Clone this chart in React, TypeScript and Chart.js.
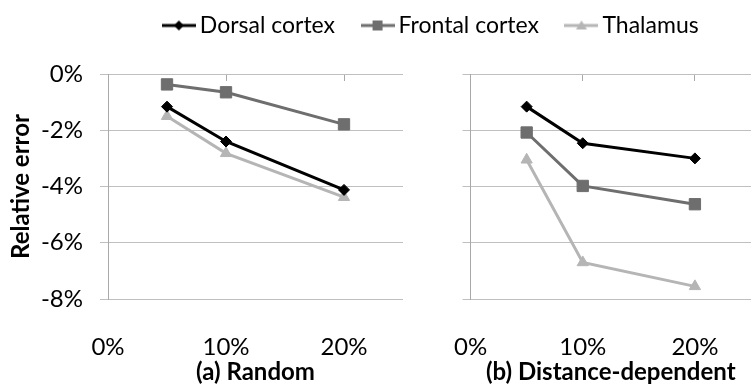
import React, { useEffect, useRef } from 'react';
import { Chart, registerables } from 'chart.js';

Chart.register(...registerables);

// ---------- data ----------
const seriesNames = ['Dorsal cortex', 'Frontal cortex', 'Thalamus'];
const xValues = [5, 10, 20];
const randomDorsal = [-1.16, -2.4, -4.12];
const randomFrontal = [-0.37, -0.65, -1.79];
const randomThalamus = [-1.5, -2.82, -4.38];
const distDorsal = [-1.16, -2.46, -3.0];
const distFrontal = [-2.08, -3.98, -4.63];
const distThalamus = [-3.05, -6.7, -7.55];
const xTickValues = [0, 10, 20];
const yTickValues = [0, -2, -4, -6, -8];
const panelTitles = ['(a) Random', '(b) Distance-dependent'];
const yAxisTitle = 'Relative error';

// ---------- styles ----------
const FONT = 'Lato';
const colors = ['#000000', '#6e6e6e', '#b5b5b5'];
const pointStyles = ['rectRot', 'rect', 'triangle'];
const pointRadii = [5.5, 8, 6.5];
const GRID = '#bfbfbf';
const AXIS = '#a9a9a9';

Chart.defaults.font.family = FONT;
Chart.defaults.color = '#000';

function makeIcon(i: number): HTMLCanvasElement {
  const c = document.createElement('canvas');
  c.width = 34;
  c.height = 14;
  const ctx = c.getContext('2d')!;
  ctx.strokeStyle = colors[i];
  ctx.fillStyle = colors[i];
  ctx.lineWidth = 3;
  ctx.beginPath();
  ctx.moveTo(0, 7);
  ctx.lineTo(34, 7);
  ctx.stroke();
  ctx.beginPath();
  if (i === 0) {
    ctx.moveTo(17, 2);
    ctx.lineTo(22, 7);
    ctx.lineTo(17, 12);
    ctx.lineTo(12, 7);
  } else if (i === 1) {
    ctx.rect(12, 2, 10, 10);
  } else {
    ctx.moveTo(17, 2);
    ctx.lineTo(22.5, 11);
    ctx.lineTo(11.5, 11);
  }
  ctx.closePath();
  ctx.fill();
  return c;
}

function keepTicks(scale: any) {
  scale.ticks = scale.ticks.filter((t: any) => xTickValues.includes(t.value));
}

function panelConfig(series: number[][], title: string, isLeft: boolean, yWidth: number, padRight: number): any {
  return {
    type: 'line',
    data: {
      datasets: series.map((vals, i) => ({
        label: seriesNames[i],
        data: xValues.map((x, k) => ({ x, y: vals[k] })),
        borderColor: colors[i],
        backgroundColor: colors[i],
        borderWidth: 3,
        pointStyle: pointStyles[i],
        pointRadius: pointRadii[i],
        pointBorderWidth: 1,
        pointBackgroundColor: colors[i],
        pointBorderColor: colors[i],
        tension: 0,
        clip: false,
      })),
    },
    options: {
      responsive: false,
      animation: false,
      layout: { padding: { top: 74, right: padRight, bottom: 0, left: 0 } },
      plugins: { legend: { display: false }, tooltip: { enabled: false } },
      scales: {
        x: {
          type: 'linear',
          position: 'bottom',
          min: 0,
          max: 25,
          afterBuildTicks: keepTicks,
          afterFit: (s: any) => { s.height = 91; },
          ticks: {
            stepSize: 10,
            padding: 34,
            font: { family: FONT, size: 24 },
            color: '#000',
            callback: (v: any) => v + '%',
          },
          grid: { display: false, drawTicks: false },
          border: { display: false },
          title: {
            display: true,
            text: title,
            font: { family: FONT, size: 24, weight: 'bold' },
            color: '#000',
            padding: { top: 0, bottom: 3 },
          },
        },
        x2: {
          type: 'linear',
          position: 'top',
          min: 0,
          max: 25,
          afterBuildTicks: keepTicks,
          afterFit: (s: any) => { s.height = 0; },
          ticks: { display: false, stepSize: 10 },
          grid: { display: true, drawOnChartArea: false, drawTicks: true, tickLength: -7, color: AXIS },
          border: { display: false },
        },
        y: {
          type: 'linear',
          position: 'left',
          min: -8,
          max: 0,
          afterBuildTicks: (s: any) => {
            s.ticks = s.ticks.filter((t: any) => yTickValues.includes(t.value));
          },
          afterFit: (s: any) => { s.width = yWidth; },
          ticks: {
            display: isLeft,
            stepSize: 2,
            padding: 17,
            font: { family: FONT, size: 24 },
            color: '#000',
            callback: (v: any) => v + '%',
          },
          grid: { color: GRID, lineWidth: 1, drawTicks: true, tickLength: 8 },
          border: { display: true, color: AXIS, width: 1 },
          title: {
            display: isLeft,
            text: yAxisTitle,
            font: { family: FONT, size: 24, weight: 'bold' },
            color: '#000',
            padding: { top: 7, bottom: 0 },
          },
        },
      },
    },
  };
}

export default function App() {
  const legendRef = useRef<HTMLCanvasElement>(null);
  const leftRef = useRef<HTMLCanvasElement>(null);
  const rightRef = useRef<HTMLCanvasElement>(null);

  useEffect(() => {
    document.body.style.margin = '0';
    document.documentElement.style.overflow = 'hidden';
    const icons = [0, 1, 2].map(makeIcon);
    const legend = new Chart(legendRef.current!, {
      type: 'line',
      data: {
        datasets: seriesNames.map((n, i) => ({ label: n, data: [], borderColor: colors[i], backgroundColor: colors[i] })),
      },
      options: {
        responsive: false,
        animation: false,
        layout: { padding: 0 },
        scales: { x: { display: false }, y: { display: false } },
        plugins: {
          tooltip: { enabled: false },
          legend: {
            display: true,
            position: 'top',
            align: 'center',
            labels: {
              usePointStyle: true,
              pointStyleWidth: 19,
              padding: 33,
              color: '#000',
              font: { family: FONT, size: 23 },
              generateLabels: () =>
                seriesNames.map((n, i) => ({
                  text: n,
                  pointStyle: icons[i],
                  fillStyle: colors[i],
                  strokeStyle: colors[i],
                  lineWidth: 0,
                  hidden: false,
                  datasetIndex: i,
                  fontColor: '#000',
                })),
            },
          },
        },
      },
    } as any);
    const left = new Chart(
      leftRef.current!,
      panelConfig([randomDorsal, randomFrontal, randomThalamus], panelTitles[0], true, 108, 17)
    );
    const right = new Chart(
      rightRef.current!,
      panelConfig([distDorsal, distFrontal, distThalamus], panelTitles[1], false, 45, 0)
    );
    return () => {
      legend.destroy();
      left.destroy();
      right.destroy();
    };
  }, []);

  return (
    <div style={{ position: 'relative', width: 752, height: 390, overflow: 'hidden', background: '#fff' }}>
      <canvas ref={leftRef} width={420} height={390} style={{ position: 'absolute', left: 0, top: 0, width: 420, height: 390 }} />
      <canvas ref={rightRef} width={340} height={390} style={{ position: 'absolute', left: 420, top: 0, width: 340, height: 390 }} />
      <canvas ref={legendRef} width={868} height={240} style={{ position: 'absolute', left: 0, top: -19, width: 868, height: 240, pointerEvents: 'none' }} />
    </div>
  );
}
